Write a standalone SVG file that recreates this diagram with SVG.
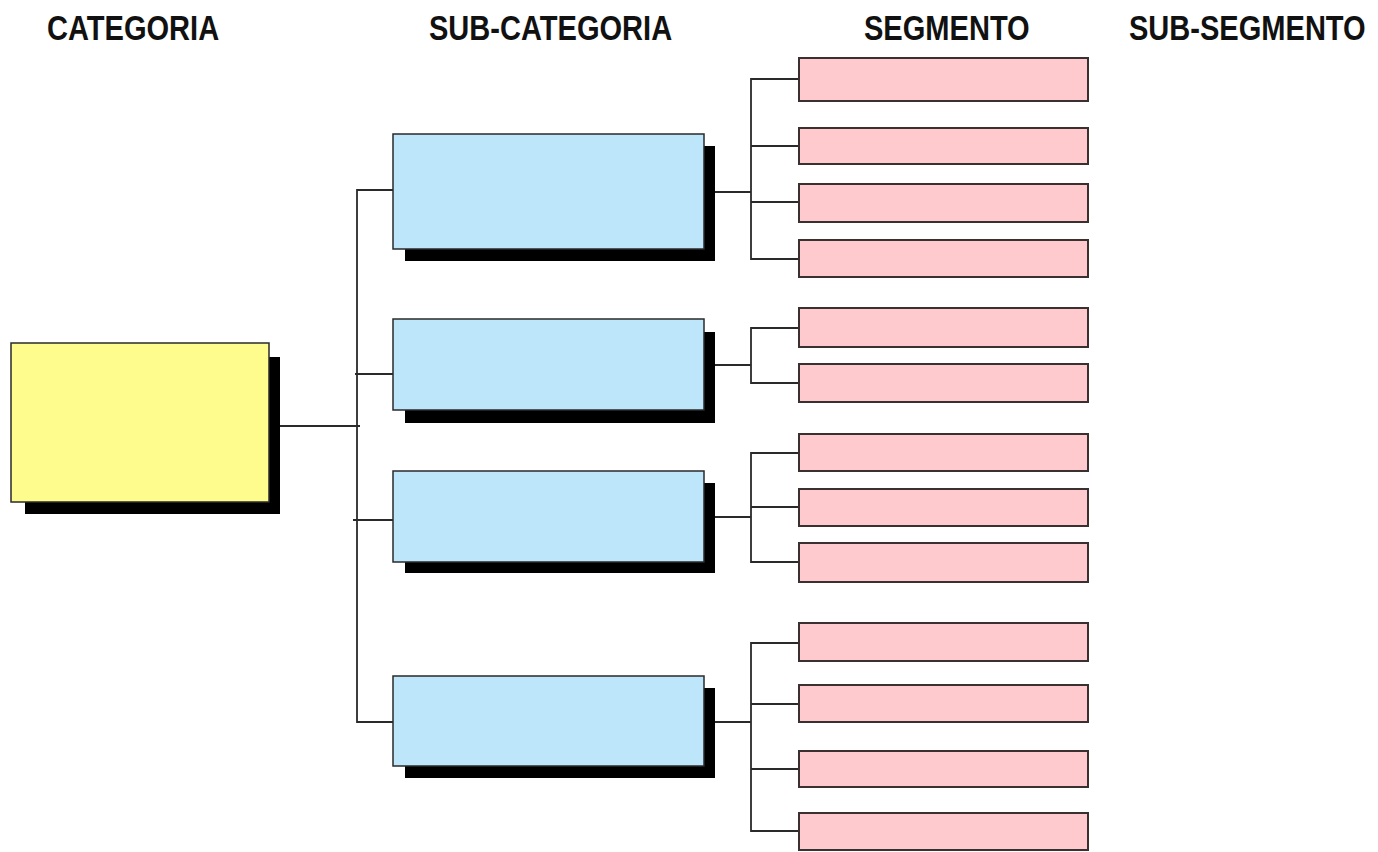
<svg xmlns="http://www.w3.org/2000/svg" width="1378" height="852" viewBox="0 0 1378 852">
  <style>
    .hdr { font-family: "Liberation Sans", Arial, sans-serif; font-weight: bold; font-size: 35px; fill: #111; }
    .shadow { fill: #000; }
    .cat { fill: #FEFC8C; stroke: #2a2a2a; stroke-width: 1.5; }
    .sub { fill: #BDE6FB; stroke: #2a2a2a; stroke-width: 1.5; }
    .seg { fill: #FECACE; stroke: #3a3030; stroke-width: 2; }
    .wire { fill: none; stroke: #2a2a2a; stroke-width: 1.8; }
  </style>
  <rect width="1378" height="852" fill="#fff"/>

  <!-- column headings, condensed horizontally -->
  <g id="headings">
    <text class="hdr" transform="translate(47,40) scale(0.83,1)">CATEGORIA</text>
    <text class="hdr" transform="translate(429,40) scale(0.83,1)">SUB-CATEGORIA</text>
    <text class="hdr" transform="translate(864,40) scale(0.83,1)">SEGMENTO</text>
    <text class="hdr" transform="translate(1129,40) scale(0.83,1)">SUB-SEGMENTO</text>
  </g>

  <!-- connectors -->
  <g id="connectors" class="wire">
    <!-- categoria to sub-categorie trunk -->
    <line x1="269" y1="426" x2="360" y2="426"/>
    <polyline points="393,190 357,190 357,722 393,722"/>
    <line x1="355" y1="374" x2="393" y2="374"/>
    <line x1="353" y1="520" x2="393" y2="520"/>

    <!-- sub-categoria 1 to segmenti -->
    <line x1="715" y1="192" x2="751" y2="192"/>
    <polyline points="799,79 751,79 751,259 799,259"/>
    <line x1="751" y1="146" x2="799" y2="146"/>
    <line x1="751" y1="202" x2="799" y2="202"/>

    <!-- sub-categoria 2 -->
    <line x1="715" y1="365" x2="751" y2="365"/>
    <polyline points="799,328 751,328 751,383 799,383"/>

    <!-- sub-categoria 3 -->
    <line x1="715" y1="517" x2="751" y2="517"/>
    <polyline points="799,453 751,453 751,562 799,562"/>
    <line x1="751" y1="507" x2="799" y2="507"/>

    <!-- sub-categoria 4 -->
    <line x1="715" y1="722" x2="751" y2="722"/>
    <polyline points="799,643 751,643 751,831 799,831"/>
    <line x1="751" y1="704" x2="799" y2="704"/>
    <line x1="751" y1="769" x2="799" y2="769"/>
  </g>

  <!-- categoria -->
  <g id="categoria">
    <rect class="shadow" x="25" y="357" width="255" height="157"/>
    <rect class="cat" x="11" y="343" width="258" height="159"/>
  </g>

  <!-- sub-categorie -->
  <g id="sub-categoria-1">
    <rect class="shadow" x="405" y="146" width="310" height="115"/>
    <rect class="sub" x="393" y="134" width="311" height="115"/>
  </g>
  <g id="sub-categoria-2">
    <rect class="shadow" x="405" y="332" width="310" height="91"/>
    <rect class="sub" x="393" y="319" width="311" height="91"/>
  </g>
  <g id="sub-categoria-3">
    <rect class="shadow" x="405" y="483" width="310" height="90"/>
    <rect class="sub" x="393" y="471" width="311" height="91"/>
  </g>
  <g id="sub-categoria-4">
    <rect class="shadow" x="405" y="688" width="310" height="90"/>
    <rect class="sub" x="393" y="676" width="311" height="90"/>
  </g>

  <!-- segmenti -->
  <g id="segmento-1"><rect class="seg" x="799" y="58" width="289" height="43"/></g>
  <g id="segmento-2"><rect class="seg" x="799" y="128" width="289" height="36"/></g>
  <g id="segmento-3"><rect class="seg" x="799" y="184" width="289" height="38"/></g>
  <g id="segmento-4"><rect class="seg" x="799" y="240" width="289" height="37"/></g>
  <g id="segmento-5"><rect class="seg" x="799" y="308" width="289" height="39"/></g>
  <g id="segmento-6"><rect class="seg" x="799" y="364" width="289" height="38"/></g>
  <g id="segmento-7"><rect class="seg" x="799" y="434" width="289" height="37"/></g>
  <g id="segmento-8"><rect class="seg" x="799" y="489" width="289" height="37"/></g>
  <g id="segmento-9"><rect class="seg" x="799" y="543" width="289" height="39"/></g>
  <g id="segmento-10"><rect class="seg" x="799" y="623" width="289" height="38"/></g>
  <g id="segmento-11"><rect class="seg" x="799" y="685" width="289" height="37"/></g>
  <g id="segmento-12"><rect class="seg" x="799" y="751" width="289" height="36"/></g>
  <g id="segmento-13"><rect class="seg" x="799" y="813" width="289" height="37"/></g>
</svg>
